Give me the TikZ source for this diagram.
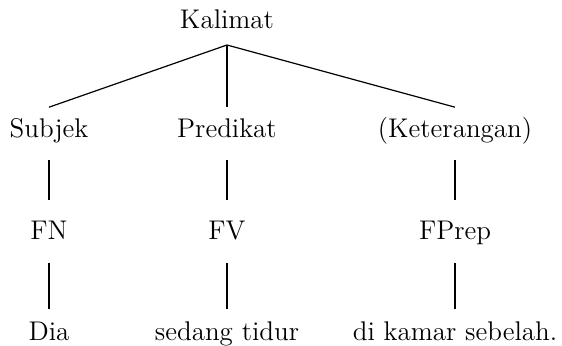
\documentclass[tikz,border=0pt]{standalone}
\usepackage{tikz}
\usetikzlibrary{positioning}

\begin{document}
\begin{tikzpicture}[
    x=0.5pt, y=-0.5pt,
    word/.style={anchor=base, inner xsep=0pt, inner ysep=6pt,
                 text height=9.2pt, text depth=0pt,
                 font=\fontsize{13.5}{16}\selectfont},
    branch/.style={line width=0.6pt},
    stem/.style={line width=0.6pt, shorten <=5pt, shorten >=4.8pt},
    leafstem/.style={line width=0.6pt, shorten <=5.5pt, shorten >=0.8pt},
]
    \useasboundingbox (0,0) rectangle (562,346);

    \node[word] (kal) at (227,29) {Kalimat};
    \coordinate[below=8pt of kal.base] (apex);

    \node[word] (subj)  at (49,138)  {Subjek};
    \node[word] (pred)  at (227,138) {Predikat};
    \node[word] (ket)   at (455,138) {(Keterangan)};

    \node[word] (fn)    at (49,240)  {FN};
    \node[word] (fv)    at (227,240) {FV};
    \node[word] (fprep) at (455,240) {FPrep};

    \node[word] (dia)   at (49,341)  {Dia};
    \node[word] (tidur) at (227,341) {sedang tidur};
    \node[word] (kamar) at (455,341) {di kamar sebelah.};

    \draw[branch] (apex) -- (subj.north);
    \draw[branch] (apex) -- (pred.north);
    \draw[branch] (apex) -- (ket.north);

    \draw[stem] (subj.south) -- (fn.north);
    \draw[stem] (pred.south) -- (fv.north);
    \draw[stem] (ket.south) -- (fprep.north);

    \draw[leafstem] (fn.south) -- (dia.north);
    \draw[leafstem] (fv.south) -- (tidur.north);
    \draw[leafstem] (fprep.south) -- (kamar.north);
\end{tikzpicture}
\end{document}
